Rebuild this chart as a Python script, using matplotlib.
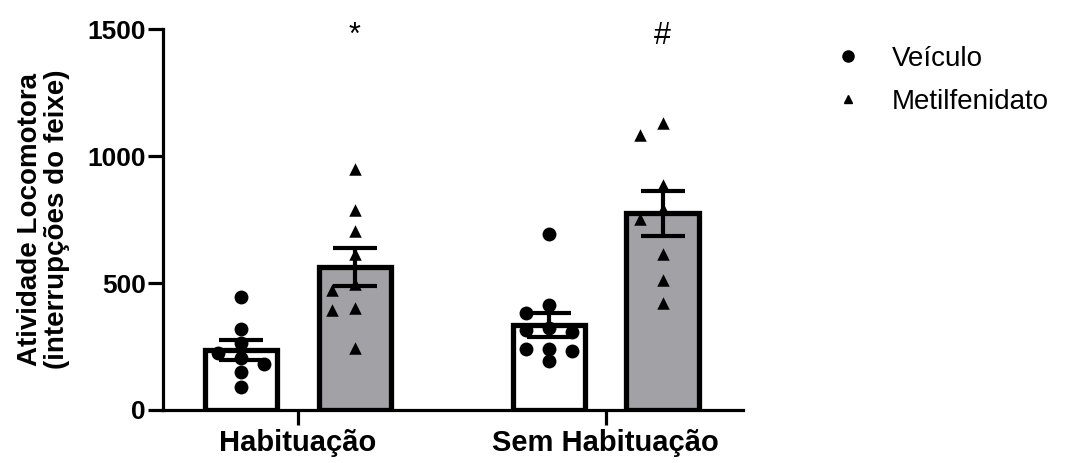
import numpy as np
import matplotlib.pyplot as plt
from matplotlib.lines import Line2D

plt.rcParams['font.family'] = ['Liberation Sans', 'DejaVu Sans']

# beam interruptions per animal
grupos = ['Habituação', 'Sem Habituação']
veiculo_hab = [445, 320, 265, 226, 203, 183, 148, 90]
metil_hab = [948, 788, 706, 616, 495, 472, 402, 394, 246]
veiculo_sem = [694, 413, 382, 324, 316, 308, 242, 242, 234, 191]
metil_sem = [1131, 1084, 885, 792, 753, 616, 511, 421]
marcas = ['*', '#']

veiculo = [veiculo_hab, veiculo_sem]
metil = [metil_hab, metil_sem]

fig = plt.figure(figsize=(10.7, 4.63), dpi=100)
ax = fig.add_axes([0.152, 0.1145, 0.542, 0.8225])
ax.set_xlim(-0.44, 1.445)
ax.set_ylim(0, 1500)

off = 0.185
w = 0.235
cinza = '#a2a2a6'


def swarm(xc, vals, diam=12.5, step=23):
    # simple beeswarm in pixel space
    pts = ax.transData.transform([(xc, v) for v in vals])
    order = np.argsort(vals, kind='stable')[::-1]
    placed = []
    xs = np.zeros(len(vals))
    for i in order:
        y = pts[i, 1]
        for k in [0, -1, 1, -2, 2, -3, 3]:
            x = pts[i, 0] + k * step
            if all((x - px) ** 2 + (y - py) ** 2 >= diam ** 2 for px, py in placed):
                break
        placed.append((x, y))
        xs[i] = ax.transData.inverted().transform((x, y))[0]
    return xs


for g in range(2):
    for vals, dx, fc, mk, ms in [(veiculo[g], -off, 'white', 'o', 10),
                                  (metil[g], off, cinza, '^', 9)]:
        vals = np.array(vals, dtype=float)
        m = vals.mean()
        sem = vals.std(ddof=1) / np.sqrt(len(vals))
        xc = g + dx
        ax.bar(xc, m, width=w, color=fc, edgecolor='black', linewidth=3.8, zorder=1)
        ax.scatter(swarm(xc, vals), vals, marker=mk, s=ms ** 2, color='black',
                   zorder=3, linewidths=0)
        ax.errorbar(xc, m, yerr=sem, color='black', elinewidth=3, capsize=16,
                    capthick=3, zorder=4)
    ax.text(g + off, 1475, marcas[g], ha='center', va='center', fontsize=22)

for s in ['top', 'right']:
    ax.spines[s].set_visible(False)
for s in ['left', 'bottom']:
    ax.spines[s].set_linewidth(2.3)

ax.set_xticks([0, 1])
ax.set_xticklabels(grupos, fontsize=21, fontweight='bold')
ax.set_yticks([0, 500, 1000, 1500])
ax.tick_params(axis='y', labelsize=19, width=2.3, length=11, pad=1)
ax.tick_params(axis='x', width=2.3, length=11, pad=3)
for t in ax.get_yticklabels():
    t.set_fontweight('bold')
ax.set_ylabel('Atividade Locomotora\n(interrupções do feixe)', fontsize=20,
              fontweight='bold', linespacing=1.05)
ax.yaxis.set_label_coords(-0.16, 0.5)

handles = [Line2D([], [], marker='o', color='black', linestyle='', markersize=8),
           Line2D([], [], marker='^', color='black', linestyle='', markersize=6)]
fig.legend(handles, ['Veículo', 'Metilfenidato'], loc='upper left',
           bbox_to_anchor=(0.743, 0.955), frameon=False, fontsize=20,
           handletextpad=0.6, labelspacing=0.6)

fig.savefig('out.png', dpi=100)
